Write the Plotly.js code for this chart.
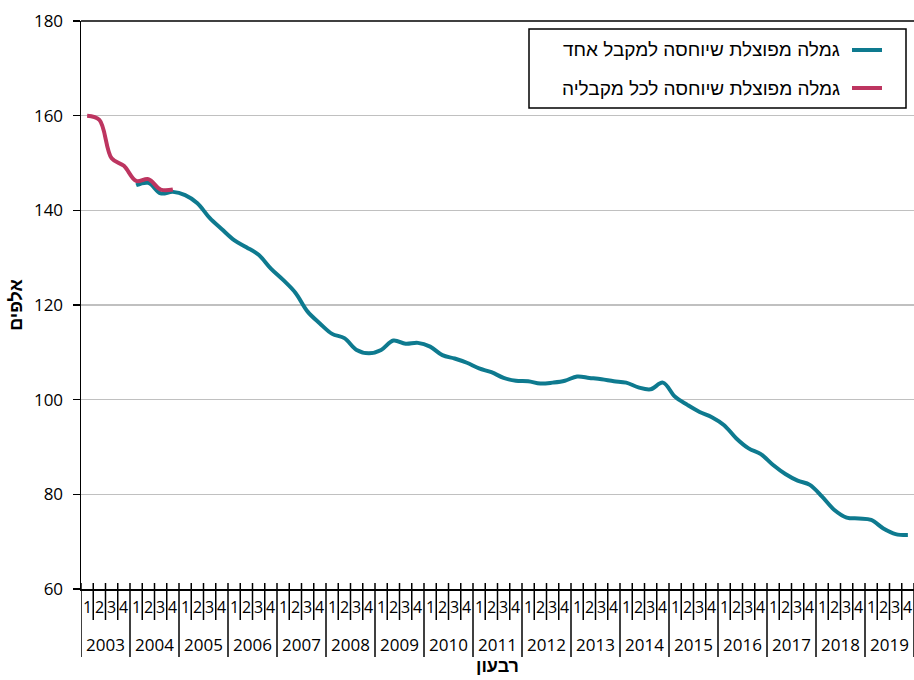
<!DOCTYPE html>
<html>
<head>
<meta charset="utf-8">
<script src="https://cdn.plot.ly/plotly-3.0.1.min.js"></script>
<style>html,body{margin:0;padding:0;background:#fff;}#chart{width:914px;height:680px;}</style>
</head>
<body>
<div id="chart"></div>
<script>
// ---- data ----
const years = ['2003','2004','2005','2006','2007','2008','2009','2010','2011','2012','2013','2014','2015','2016','2017','2018','2019'];
const quarters = ['1','2','3','4'];
// one recipient (teal), 2003Q1..2019Q4, null where missing
const oneRecipient = [null,null,null,null,
  145.3,145.8,143.6,143.9,
  143.2,141.5,138.4,136.0,
  133.7,132.2,130.6,127.7,
  125.3,122.6,118.6,116.1,
  113.9,113.0,110.5,109.8,
  110.5,112.5,111.8,112.0,
  111.2,109.4,108.7,107.8,
  106.6,105.8,104.6,104.0,
  103.9,103.4,103.6,104.0,
  104.9,104.6,104.3,103.9,
  103.6,102.6,102.2,103.6,
  100.6,98.9,97.4,96.3,
  94.6,91.8,89.7,88.5,
  86.2,84.3,82.9,82.0,
  79.5,76.7,75.1,74.9,
  74.6,72.8,71.6,71.4];
// all recipients (crimson), 2003Q1..2004Q4
const allRecipients = [160.0,159.1,151.0,149.4,146.2,146.6,144.4,144.4];
const seriesNames = ['גמלה מפוצלת שיוחסה למקבל אחד','גמלה מפוצלת שיוחסה לכל מקבליה'];
const yTitle = 'אלפים';
const xTitle = 'רבעון';
const colors = ['#0e7a8f','#bd3560'];

// ---- build ----
const periods = [];
years.forEach(y => quarters.forEach(q => periods.push(y + '-' + q)));
const xIdx = periods.map((p, i) => i);
const nQ = periods.length;

const traces = [
  {x: xIdx, y: oneRecipient, type: 'scatter', mode: 'lines', name: seriesNames[0],
   line: {color: colors[0], width: 4, shape: 'spline', smoothing: 1}, connectgaps: false},
  {x: xIdx.slice(0, allRecipients.length), y: allRecipients, type: 'scatter', mode: 'lines', name: seriesNames[1],
   line: {color: colors[1], width: 4, shape: 'spline', smoothing: 1}}
];

const plotH = 568;
const pxToPaperY = px => (589 - px) / plotH;   // px from top of page
const plotW = 833;
const pxToPaperX = px => (px - 81) / plotW;
const numFont = 'Open Sans, Liberation Sans, sans-serif';
const hebFont = 'Liberation Sans, DejaVu Sans, sans-serif';

const shapes = [];
const annotations = [];
// top border
shapes.push({type:'line', xref:'paper', yref:'paper', x0:0, x1:1, y0:1, y1:1, line:{color:'#000', width:1.5}});
// quarter separators and labels
for (let i = 0; i <= nQ; i++) {
  const isYear = (i % 4 === 0);
  shapes.push({type:'line', xref:'x', yref:'paper', x0:i-0.5, x1:i-0.5,
    y0: pxToPaperY(583), y1: pxToPaperY(isYear ? 657 : 620), line:{color:'#000', width:1.5}});
}
periods.forEach((p, i) => {
  annotations.push({x: i, y: pxToPaperY(607), xref:'x', yref:'paper', text: quarters[i % 4], showarrow:false,
    font:{family:numFont, size:16, color:'#000'}, xanchor:'center', yanchor:'middle'});
});
years.forEach((y, k) => {
  annotations.push({x: k*4 + 1.5, y: pxToPaperY(644), xref:'x', yref:'paper', text: y, showarrow:false,
    font:{family:numFont, size:17, color:'#000'}, xanchor:'center', yanchor:'middle'});
});
// legend box
shapes.push({type:'rect', xref:'paper', yref:'paper', x0:pxToPaperX(529), x1:pxToPaperX(906),
  y0:pxToPaperY(108), y1:pxToPaperY(29), line:{color:'#000', width:1.5}, fillcolor:'#fff', layer:'above'});
const legY = [50, 88];
seriesNames.forEach((nm, k) => {
  shapes.push({type:'line', xref:'paper', yref:'paper', x0:pxToPaperX(852), x1:pxToPaperX(882),
    y0:pxToPaperY(legY[k]), y1:pxToPaperY(legY[k]), line:{color:colors[k], width:4}, layer:'above'});
  annotations.push({x:pxToPaperX(842), y:pxToPaperY(legY[k]), xref:'paper', yref:'paper', text:nm, showarrow:false,
    xanchor:'right', yanchor:'middle', font:{family:hebFont, size:19, color:'#000'}});
});
// x axis title
annotations.push({x:0.5, y:pxToPaperY(666), xref:'paper', yref:'paper', text:'<b>'+xTitle+'</b>', showarrow:false,
  xanchor:'center', yanchor:'middle', font:{family:hebFont, size:18, color:'#000'}});

const layout = {
  width: 914, height: 680,
  margin: {l:81, r:0, t:21, b:91},
  paper_bgcolor:'#fff', plot_bgcolor:'#fff',
  showlegend: false,
  xaxis: {range:[-0.5, nQ-0.5], showgrid:false, zeroline:false, showticklabels:false,
    showline:true, linecolor:'#000', linewidth:1.5, ticks:'', fixedrange:true},
  yaxis: {range:[60,180], dtick:20, tick0:60, showgrid:true, gridcolor:'#c0c0c0', gridwidth:1.5,
    zeroline:false, showline:true, linecolor:'#000', linewidth:1.5, ticks:'outside', ticklen:7,
    tickcolor:'#000', tickwidth:1.5, ticklabelstandoff:6,
    tickfont:{family:numFont, size:17, color:'#000'},
    title:{text:'<b>'+yTitle+'</b>', standoff:6, font:{family:hebFont, size:18, color:'#000'}}},
  shapes: shapes,
  annotations: annotations
};
Plotly.newPlot('chart', traces, layout, {displayModeBar:false, staticPlot:true});
</script>
</body>
</html>
